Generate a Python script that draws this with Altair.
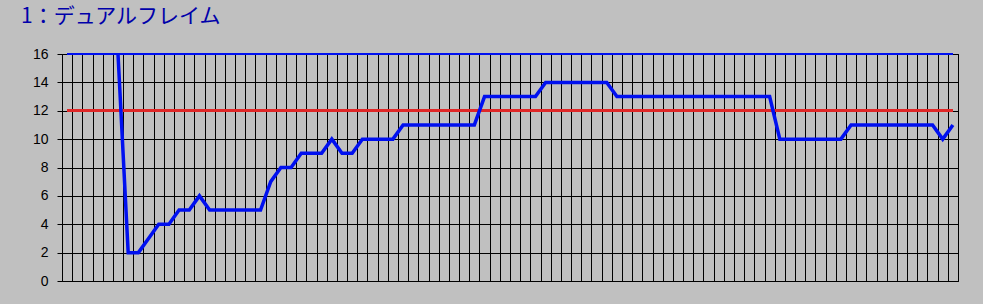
import altair as alt
import pandas as pd

title_text = "1：デュアルフレイム"
n_points = 88
series = [None] * 5 + [16, 2, 2, 3, 4, 4, 5, 5, 6] + [5] * 6 + [7, 8, 8, 9, 9, 9, 10, 9, 9] + [10] * 4 \
    + [11] * 8 + [13] * 6 + [14] * 7 + [13] * 16 + [10] * 7 + [11] * 9 + [10, 11]
upper_line = 16
lower_line = 12
y_ticks = [0, 2, 4, 6, 8, 10, 12, 14, 16]

df = pd.DataFrame({"i": list(range(n_points)), "v": series})

xscale = alt.Scale(domain=[-0.5, n_points - 0.5], nice=False, zero=False)
yscale = alt.Scale(domain=[0, 16], nice=False)

x_axis = alt.Axis(values=[k - 0.5 for k in range(n_points + 1)], tickCount=200, grid=True,
                  gridColor="#000000", gridWidth=1, gridOpacity=1, labels=False, ticks=False,
                  domain=False, title=None, labelOverlap=False)
y_axis = alt.Axis(values=y_ticks, tickCount=50, format="d", grid=True, gridColor="#000000",
                  gridWidth=1, gridOpacity=1, ticks=True, tickSize=5, tickColor="#000000",
                  tickWidth=1, domain=False, labelFont="Liberation Sans", labelFontSize=14,
                  labelColor="#000000", labelPadding=9, title=None, labelOverlap=False)

base = alt.Chart(df)

line = base.mark_line(color="#0010F0", strokeWidth=3.5, clip=True).encode(
    x=alt.X("i:Q", scale=xscale, axis=x_axis),
    y=alt.Y("v:Q", scale=yscale, axis=y_axis),
)

red = alt.Chart(df).mark_rule(color="#E02828", strokeWidth=2.5).encode(
    x=alt.datum(0, scale=xscale), x2=alt.datum(n_points - 1), y=alt.datum(lower_line, scale=yscale)
)
blue = alt.Chart(df).mark_rule(color="#0010F0", strokeWidth=2).encode(
    x=alt.datum(0, scale=xscale), x2=alt.datum(n_points - 1), y=alt.datum(upper_line, scale=yscale)
)

title = alt.Chart(pd.DataFrame({"t": [title_text]})).mark_text(
    align="left", baseline="alphabetic", font="Noto Sans CJK JP", fontSize=21, color="#0000AA"
).encode(x=alt.value(-41), y=alt.value(-31), text="t:N")

chart = alt.layer(red, blue, line, title).properties(
    width=896, height=227,
    autosize=alt.AutoSizeParams(type="none"),
    padding={"left": 62, "top": 54, "right": 25, "bottom": 23},
    background="#C0C0C0",
).configure_view(stroke="#000000", strokeWidth=1, fill="#C0C0C0")

chart.save("out.html", embed_options={"renderer": "svg", "actions": False})
